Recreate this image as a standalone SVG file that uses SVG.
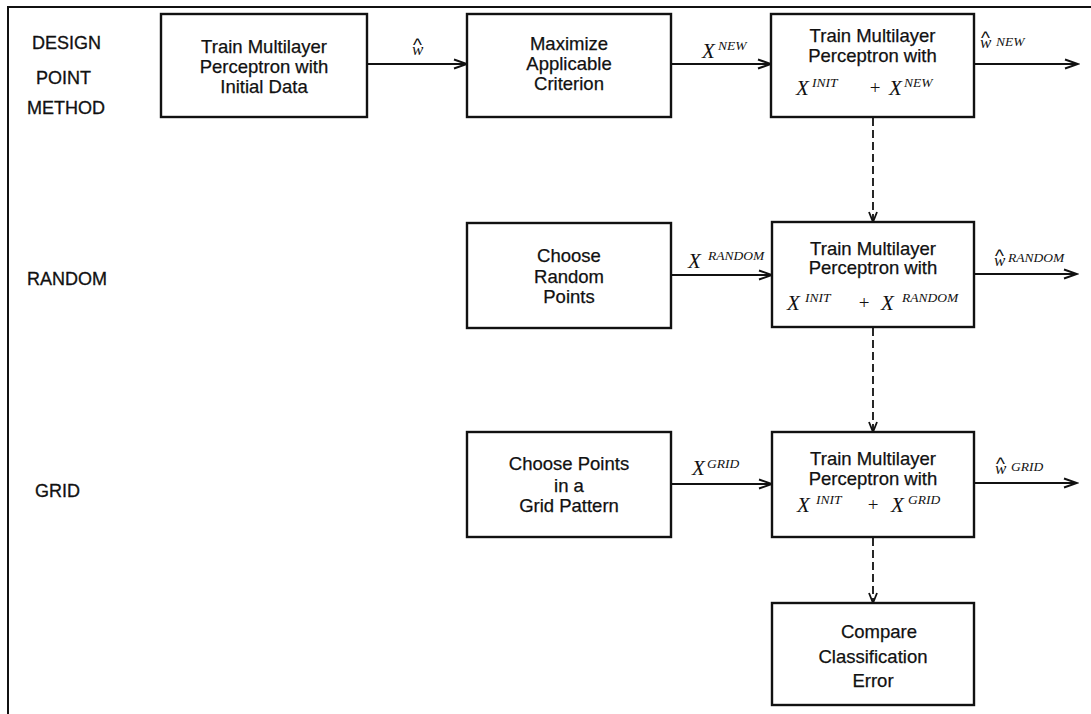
<svg xmlns="http://www.w3.org/2000/svg" width="1091" height="714" viewBox="0 0 1091 714">
<style>
.box{fill:#fff;stroke:#111;stroke-width:2.4}
.t{font-family:"Liberation Sans",Arial,sans-serif;font-size:18.5px;fill:#111;stroke:#111;stroke-width:0.25;text-anchor:middle}
.lab{font-family:"Liberation Sans",Arial,sans-serif;font-size:18px;fill:#111;stroke:#111;stroke-width:0.3}
.X{font-family:"Liberation Serif","Times New Roman",serif;font-style:italic;font-size:21px;fill:#111}
.sup{font-family:"Liberation Serif","Times New Roman",serif;font-style:italic;font-size:13.5px;fill:#111}
.w{font-family:"Liberation Serif","Times New Roman",serif;font-style:italic;font-size:17px;fill:#111}
.hat{font-family:"Liberation Sans",Arial,sans-serif;font-style:normal;font-size:19px}
.plus{font-family:"Liberation Serif","Times New Roman",serif;font-size:19px;fill:#111}
.conn{stroke:#111;stroke-width:2;fill:none}
.dash{stroke:#111;stroke-width:1.8;fill:none;stroke-dasharray:8 4}
</style>
<defs>
<marker id="ah" markerWidth="16" markerHeight="12" refX="14" refY="6" orient="auto" markerUnits="userSpaceOnUse">
<path d="M1,1.5 L14,6 L1,10.5" fill="none" stroke="#111" stroke-width="2"/>
</marker>
<marker id="ahd" markerWidth="12" markerHeight="12" refX="11" refY="6" orient="auto" markerUnits="userSpaceOnUse">
<path d="M1,2 L11,6 L1,10" fill="none" stroke="#111" stroke-width="1.8"/>
</marker>
</defs>

<g id="frame"><path d="M8,714 L8,7 L1091,7" fill="none" stroke="#111" stroke-width="2"/></g>

<g id="row-labels">
<text class="lab" x="32" y="49">DESIGN</text>
<text class="lab" x="36" y="84">POINT</text>
<text class="lab" x="27" y="114">METHOD</text>
<text class="lab" x="27" y="285">RANDOM</text>
<text class="lab" x="35" y="497">GRID</text>
</g>

<g id="connectors">
<line class="conn" x1="367" y1="64" x2="467" y2="64" marker-end="url(#ah)"/>
<line class="conn" x1="671" y1="64" x2="771" y2="64" marker-end="url(#ah)"/>
<line class="conn" x1="974" y1="64" x2="1078" y2="64" marker-end="url(#ah)"/>
<line class="conn" x1="671" y1="275" x2="772" y2="275" marker-end="url(#ah)"/>
<line class="conn" x1="974" y1="274" x2="1077" y2="274" marker-end="url(#ah)"/>
<line class="conn" x1="671" y1="484" x2="772" y2="484" marker-end="url(#ah)"/>
<line class="conn" x1="974" y1="483" x2="1077" y2="483" marker-end="url(#ah)"/>
<line class="dash" x1="873" y1="118" x2="873" y2="222" marker-end="url(#ahd)"/>
<line class="dash" x1="873" y1="328" x2="873" y2="432" marker-end="url(#ahd)"/>
<line class="dash" x1="873" y1="538" x2="873" y2="603" marker-end="url(#ahd)"/>
<text class="w"><tspan class="hat" x="413" y="50.5">^</tspan><tspan x="412" y="55">w</tspan></text>
<text class="X" x="702" y="58">X<tspan class="sup" x="718" y="50">NEW</tspan></text>
<text class="w"><tspan class="hat" x="981" y="43.5">^</tspan><tspan x="980" y="48">w</tspan><tspan class="sup" x="996" y="46">NEW</tspan></text>
<text class="X" x="688" y="268">X<tspan class="sup" x="708" y="260">RANDOM</tspan></text>
<text class="w"><tspan class="hat" x="995" y="261.5">^</tspan><tspan x="994" y="266">w</tspan><tspan class="sup" x="1008" y="262">RANDOM</tspan></text>
<text class="X" x="692" y="475">X<tspan class="sup" x="707" y="468">GRID</tspan></text>
<text class="w"><tspan class="hat" x="996" y="469.5">^</tspan><tspan x="995" y="474">w</tspan><tspan class="sup" x="1011" y="471">GRID</tspan></text>
</g>

<g id="n-train-initial">
<rect class="box" x="161" y="14" width="206" height="103"/>
<text class="t" x="264" y="53">Train Multilayer</text>
<text class="t" x="264" y="73">Perceptron with</text>
<text class="t" x="264" y="93">Initial Data</text>
</g>

<g id="n-maximize">
<rect class="box" x="467" y="14" width="204" height="103"/>
<text class="t" x="569" y="50">Maximize</text>
<text class="t" x="569" y="70">Applicable</text>
<text class="t" x="569" y="90">Criterion</text>
</g>

<g id="n-train-new">
<rect class="box" x="771" y="14" width="203" height="103"/>
<text class="t" x="872.5" y="42">Train Multilayer</text>
<text class="t" x="872.5" y="62">Perceptron with</text>
<text class="X" x="796" y="95">X<tspan class="sup" x="812" y="87">INIT</tspan></text>
<text class="plus" x="875" y="94" text-anchor="middle">+</text>
<text class="X" x="889" y="95">X<tspan class="sup" x="904" y="87">NEW</tspan></text>
</g>

<g id="n-choose-random">
<rect class="box" x="467" y="223" width="204" height="105"/>
<text class="t" x="569" y="262">Choose</text>
<text class="t" x="569" y="283">Random</text>
<text class="t" x="569" y="303">Points</text>
</g>

<g id="n-train-random">
<rect class="box" x="772" y="222" width="202" height="105"/>
<text class="t" x="873" y="255">Train Multilayer</text>
<text class="t" x="873" y="274">Perceptron with</text>
<text class="X" x="787" y="310">X<tspan class="sup" x="805" y="302">INIT</tspan></text>
<text class="plus" x="864" y="309" text-anchor="middle">+</text>
<text class="X" x="881" y="310">X<tspan class="sup" x="902" y="302">RANDOM</tspan></text>
</g>

<g id="n-choose-grid">
<rect class="box" x="467" y="432" width="204" height="105"/>
<text class="t" x="569" y="470">Choose Points</text>
<text class="t" x="569" y="492">in a</text>
<text class="t" x="569" y="512">Grid Pattern</text>
</g>

<g id="n-train-grid">
<rect class="box" x="772" y="432" width="202" height="105"/>
<text class="t" x="873" y="465">Train Multilayer</text>
<text class="t" x="873" y="485">Perceptron with</text>
<text class="X" x="797" y="512">X<tspan class="sup" x="816" y="504">INIT</tspan></text>
<text class="plus" x="873" y="511" text-anchor="middle">+</text>
<text class="X" x="891" y="512">X<tspan class="sup" x="908" y="504">GRID</tspan></text>
</g>

<g id="n-compare">
<rect class="box" x="772" y="603" width="202" height="102"/>
<text class="t" x="879" y="638">Compare</text>
<text class="t" x="873" y="663">Classification</text>
<text class="t" x="873" y="687">Error</text>
</g>
</svg>
